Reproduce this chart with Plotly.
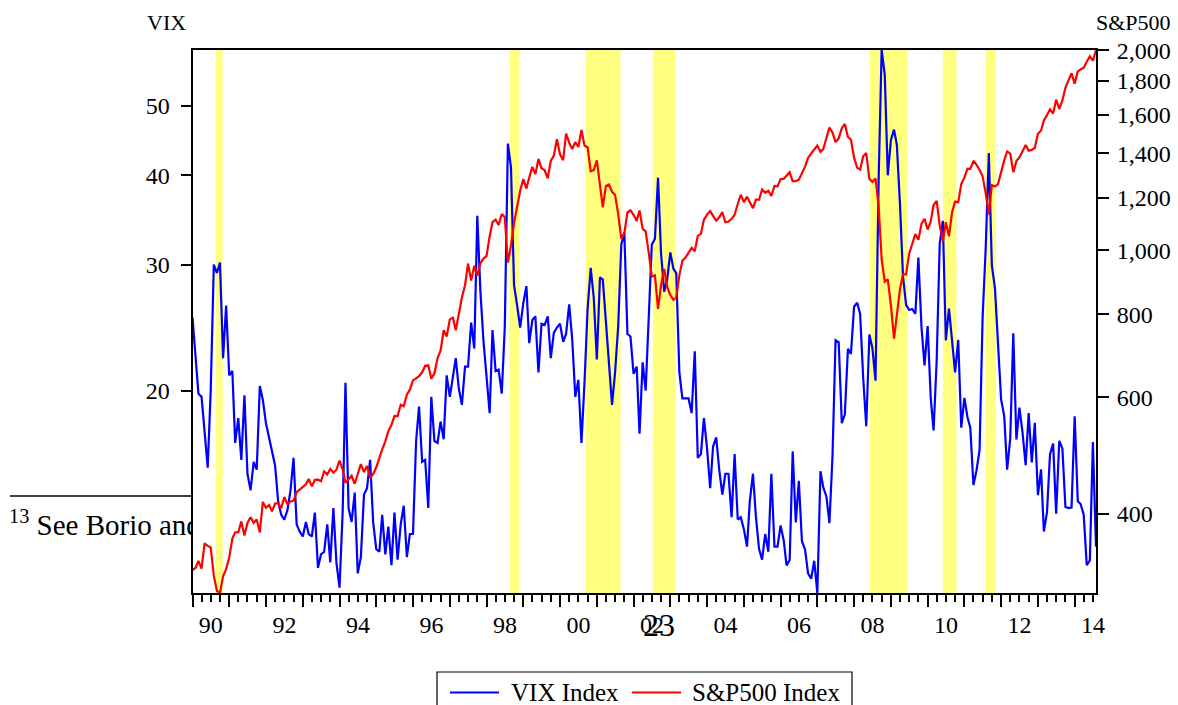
import math
import pandas as pd
import plotly.graph_objects as go

# ---------------- data (month-end values, Jan 1990 - Aug 2014) ----------------
months = pd.date_range("1990-01-01", "2014-08-01", freq="MS")

vix = [
    # 1990
    25.3, 22.2, 19.8, 19.6, 17.4, 15.6, 20.0, 30.0, 29.2, 30.2, 22.2, 26.3,
    # 1991
    21.0, 21.3, 16.9, 18.3, 16.0, 19.7, 15.3, 14.5, 15.9, 15.5, 20.3, 19.4,
    # 1992
    18.0, 17.2, 16.6, 15.7, 14.0, 13.4, 13.2, 13.6, 14.5, 16.1, 13.0, 12.7,
    # 1993
    12.5, 13.1, 12.6, 12.5, 13.5, 11.3, 11.8, 11.9, 13.0, 11.5, 13.7, 11.5,
    # 1994
    10.6, 13.5, 20.5, 13.7, 13.1, 14.4, 11.1, 11.7, 14.3, 14.6, 16.0, 13.1,
    # 1995
    12.0, 11.9, 13.4, 11.8, 12.9, 11.4, 13.5, 11.6, 13.0, 13.8, 11.7, 12.6,
    # 1996
    12.6, 17.0, 19.0, 15.9, 16.0, 13.7, 19.6, 17.0, 16.9, 18.1, 17.1, 21.0,
    # 1997
    19.6, 21.0, 22.2, 20.1, 19.1, 21.6, 21.6, 24.9, 22.9, 35.1, 27.5, 23.5,
    # 1998
    21.0, 18.6, 24.3, 21.3, 21.4, 19.8, 24.5, 44.3, 41.0, 28.1, 26.3, 24.5,
    # 1999
    26.5, 28.0, 23.3, 25.1, 25.4, 21.2, 24.8, 24.7, 25.4, 22.2, 24.1, 24.5,
    # 2000
    24.8, 23.4, 24.0, 26.4, 23.6, 19.6, 20.7, 16.9, 20.6, 26.0, 29.7, 27.0,
    # 2001
    22.1, 28.8, 28.6, 25.2, 22.2, 19.1, 21.2, 24.6, 32.0, 33.3, 24.0, 23.8,
    # 2002
    21.1, 21.6, 17.4, 21.9, 20.0, 25.4, 32.0, 32.6, 39.7, 31.1, 27.5, 28.6,
    # 2003
    31.2, 29.6, 29.2, 21.2, 19.5, 19.5, 19.5, 18.6, 22.7, 16.1, 16.3, 18.3,
    # 2004
    16.6, 14.6, 16.7, 17.2, 15.5, 14.3, 15.3, 15.3, 13.3, 16.3, 13.2, 13.3,
    # 2005
    12.8, 12.1, 14.0, 15.3, 13.3, 12.0, 11.6, 12.6, 11.9, 15.3, 12.1, 12.1,
    # 2006
    12.95, 12.34, 11.39, 11.59, 16.44, 13.08, 14.95, 12.31, 11.98, 11.10, 10.91, 11.56,
    # 2007
    10.42, 15.42, 14.64, 14.22, 13.05, 16.23, 23.52, 23.38, 18.00, 18.53, 22.87, 22.50,
    # 2008
    26.20, 26.54, 25.61, 20.79, 17.83, 23.95, 22.94, 20.65, 39.39, 59.89, 55.28, 40.00,
    # 2009
    44.84, 46.35, 44.14, 36.50, 28.92, 26.35, 25.92, 26.01, 25.61, 30.69, 24.51, 21.68,
    # 2010
    24.62, 19.50, 17.59, 22.05, 32.07, 34.54, 23.50, 26.05, 23.70, 21.20, 23.54, 17.75,
    # 2011
    19.53, 18.35, 17.74, 14.75, 15.45, 16.52, 25.25, 31.62, 42.96, 29.96, 27.80, 23.40,
    # 2012
    19.44, 18.43, 15.50, 17.15, 24.06, 17.08, 18.93, 17.47, 15.73, 18.60, 15.87, 18.02,
    # 2013
    14.28, 15.51, 12.70, 13.52, 16.30, 16.86, 13.45, 17.01, 16.60, 13.75, 13.70, 13.72,
    # 2014
    18.41, 14.00, 13.88, 13.41, 11.40, 11.57, 16.95, 12.09,
]

spx = [
    # 1990
    329.1, 331.9, 339.9, 330.8, 361.2, 358.0, 356.2, 322.6, 306.1, 304.0, 322.2, 330.2,
    # 1991
    343.9, 367.1, 375.2, 375.3, 389.8, 371.2, 387.8, 395.4, 387.9, 392.5, 375.2, 417.1,
    # 1992
    408.8, 412.7, 403.7, 414.9, 415.4, 408.1, 424.2, 414.0, 417.8, 418.7, 431.4, 435.7,
    # 1993
    438.8, 443.4, 451.7, 440.2, 450.2, 450.5, 448.1, 463.6, 458.9, 467.8, 461.8, 466.5,
    # 1994
    481.6, 467.1, 445.8, 450.9, 456.5, 444.3, 458.3, 475.5, 462.7, 472.4, 453.7, 459.3,
    # 1995
    470.4, 487.4, 500.7, 514.7, 533.4, 544.8, 562.1, 561.9, 584.4, 581.5, 605.4, 615.9,
    # 1996
    636.0, 640.4, 645.5, 654.2, 669.1, 670.6, 639.9, 652.0, 687.3, 705.3, 757.0, 740.7,
    # 1997
    786.2, 790.8, 757.1, 801.3, 848.3, 885.1, 954.3, 899.5, 947.3, 914.6, 955.4, 970.4,
    # 1998
    980.3, 1049.3, 1101.8, 1111.8, 1090.8, 1133.8, 1120.7, 957.3, 1017.0, 1098.7, 1163.6, 1229.2,
    # 1999
    1279.6, 1238.3, 1286.4, 1335.2, 1301.8, 1372.7, 1328.7, 1320.4, 1282.7, 1362.9, 1388.9, 1469.3,
    # 2000
    1394.5, 1366.4, 1498.6, 1452.4, 1420.6, 1454.6, 1430.8, 1517.7, 1436.5, 1429.4, 1315.2, 1320.3,
    # 2001
    1366.0, 1239.9, 1160.3, 1249.5, 1255.8, 1224.4, 1211.2, 1133.6, 1040.9, 1059.8, 1139.5, 1148.1,
    # 2002
    1130.2, 1106.7, 1147.4, 1076.9, 1067.1, 989.8, 911.6, 916.1, 815.3, 885.8, 936.3, 879.8,
    # 2003
    855.7, 841.2, 848.2, 916.9, 963.6, 974.5, 990.3, 1008.0, 996.0, 1050.7, 1058.2, 1111.9,
    # 2004
    1131.1, 1144.9, 1126.2, 1107.3, 1120.7, 1140.8, 1101.7, 1104.2, 1114.6, 1130.2, 1173.8, 1211.9,
    # 2005
    1181.3, 1203.6, 1180.6, 1156.9, 1191.5, 1191.3, 1234.2, 1220.3, 1228.8, 1207.0, 1249.5, 1248.3,
    # 2006
    1280.1, 1280.7, 1294.8, 1310.6, 1270.1, 1270.2, 1276.7, 1303.8, 1335.9, 1377.9, 1400.6, 1418.3,
    # 2007
    1438.2, 1406.8, 1420.9, 1482.4, 1530.6, 1503.4, 1455.3, 1474.0, 1526.8, 1549.4, 1481.1, 1468.4,
    # 2008
    1378.6, 1330.6, 1322.7, 1385.6, 1400.4, 1280.0, 1267.4, 1282.8, 1166.4, 968.8, 896.2, 903.3,
    # 2009
    825.9, 735.1, 797.9, 872.8, 919.1, 919.3, 987.5, 1020.6, 1057.1, 1036.2, 1095.6, 1115.1,
    # 2010
    1073.9, 1104.5, 1169.4, 1186.7, 1089.4, 1030.7, 1101.6, 1049.3, 1141.2, 1183.3, 1180.6, 1257.6,
    # 2011
    1286.1, 1327.2, 1325.8, 1363.6, 1345.2, 1320.6, 1292.3, 1218.9, 1131.4, 1253.3, 1247.0, 1257.6,
    # 2012
    1312.4, 1365.7, 1408.5, 1397.9, 1310.3, 1362.2, 1379.3, 1406.6, 1440.7, 1412.2, 1416.2, 1426.2,
    # 2013
    1498.1, 1514.7, 1569.2, 1597.6, 1630.7, 1606.3, 1685.7, 1633.0, 1681.6, 1756.5, 1805.8, 1848.4,
    # 2014
    1782.6, 1859.5, 1872.3, 1883.95, 1923.6, 1960.2, 1930.7, 2003.4,
]

# shaded stress episodes (start, end)
band_starts = ["1990-08-23", "1998-08-17", "2000-09-12", "2002-07-11", "2008-06-05", "2010-06-01", "2011-08-02"]
band_ends   = ["1990-10-28", "1998-11-25", "2001-08-25", "2003-02-20", "2009-06-15", "2010-10-15", "2011-11-10"]

vix_ticks = [20, 30, 40, 50]
spx_ticks = [400, 600, 800, 1000, 1200, 1400, 1600, 1800, 2000]

series_names = ["VIX Index", "S&P500 Index"]
series_colors = ["#0000FF", "#FF0000"]

# ---------------- layout helpers ----------------
W, H = 1178, 705
def fx(p):
    return p / W
def fy(p):
    return 1 - p / H

PL, PR, PT, PB = 192.5, 1096.0, 50.0, 593.0
SERIF = "Liberation Serif"

fig = go.Figure()

fig.add_trace(go.Scatter(x=months, y=vix, name=series_names[0], mode="lines",
                         line=dict(color=series_colors[0], width=2.2),
                         xaxis="x", yaxis="y", showlegend=False))
fig.add_trace(go.Scatter(x=months, y=spx, name=series_names[1], mode="lines",
                         line=dict(color=series_colors[1], width=2.2),
                         xaxis="x", yaxis="y2", showlegend=False))

# footnote text lying behind the chart (clipped at the chart's left edge)
fig.add_trace(go.Scatter(x=[9], y=[528], mode="text",
                         text=["<sup>13</sup> See Borio and Lowe"],
                         textposition="middle right",
                         textfont=dict(family=SERIF, size=29, color="black"),
                         cliponaxis=True, showlegend=False, hoverinfo="skip",
                         xaxis="x3", yaxis="y3"))

shapes = []
for s, e in zip(band_starts, band_ends):
    shapes.append(dict(type="rect", xref="x", yref="paper", x0=s, x1=e,
                       y0=fy(PB), y1=fy(PT), fillcolor="#FFFF80",
                       line=dict(width=0), layer="below"))
# footnote separator rule
shapes.append(dict(type="line", xref="paper", yref="paper",
                   x0=fx(10), x1=fx(PL), y0=fy(496), y1=fy(496),
                   line=dict(color="black", width=1.5)))

# legend box (bottom, partly cut by the page edge)
shapes.append(dict(type="rect", xref="paper", yref="paper",
                   x0=fx(437), x1=fx(852), y0=fy(716), y1=fy(672),
                   line=dict(color="black", width=1.2), fillcolor="white"))
legend_line_x = [(450, 499), (632, 681)]
legend_text_x = [509, 690]
annotations = []
for (lx0, lx1), tx, nm, col in zip(legend_line_x, legend_text_x, series_names, series_colors):
    shapes.append(dict(type="line", xref="paper", yref="paper",
                       x0=fx(lx0), x1=fx(lx1), y0=fy(692.5), y1=fy(692.5),
                       line=dict(color=col, width=2)))
    annotations.append(dict(text=nm, x=fx(tx), y=fy(692), xref="paper", yref="paper",
                            xanchor="left", yanchor="middle", showarrow=False,
                            font=dict(family=SERIF, size=25, color="black")))

annotations += [
    dict(text="VIX", x=fx(166.5), y=fy(22), xref="paper", yref="paper",
         xanchor="center", yanchor="middle",
         showarrow=False, font=dict(family=SERIF, size=22, color="black")),
    dict(text="S&P500", x=fx(1133.5), y=fy(22), xref="paper", yref="paper",
         xanchor="center", yanchor="middle",
         showarrow=False, font=dict(family=SERIF, size=22, color="black")),
    dict(text="23", x=fx(659), y=fy(625), xref="paper", yref="paper",
         xanchor="center", yanchor="middle",
         showarrow=False, font=dict(family=SERIF, size=32, color="black")),
]

fig.update_layout(
    width=W, height=H,
    template="none",
    margin=dict(l=0, r=0, t=0, b=0, autoexpand=False),
    paper_bgcolor="white", plot_bgcolor="white",
    shapes=shapes, annotations=annotations,
    showlegend=False,
    xaxis=dict(type="date", domain=[fx(PL), fx(PR)], anchor="y",
               range=[months[0], months[-1]],
               showline=True, linecolor="black", linewidth=2, mirror=True,
               showgrid=False, zeroline=False,
               ticks="outside", ticklen=12, tickwidth=1.5, tickcolor="black",
               tick0="1990-01-01", dtick="M12", tickformat="%y",
               ticklabelmode="period", ticklabelstep=2, ticklabelstandoff=-3,
               tickfont=dict(family=SERIF, size=24, color="black"),
               minor=dict(dtick="M3", tick0="1990-01-01", ticks="outside", ticklen=7,
                          tickwidth=1.5, tickcolor="black", showgrid=False)),
    yaxis=dict(type="log", domain=[fy(PB), fy(PT)], anchor="x",
               range=[math.log10(min(vix)), math.log10(max(vix))],
               showline=True, linecolor="black", linewidth=2,
               showgrid=False, zeroline=False,
               tickvals=vix_ticks, ticks="outside", ticklen=10, tickwidth=1.5,
               tickcolor="black", ticklabelstandoff=6,
               tickfont=dict(family=SERIF, size=24, color="black")),
    yaxis2=dict(type="log", overlaying="y", side="right", anchor="x",
                range=[math.log10(min(spx)), math.log10(max(spx))],
                showline=True, linecolor="black", linewidth=2,
                showgrid=False, zeroline=False,
                tickvals=spx_ticks, tickformat=",", ticks="outside", ticklen=11,
                tickwidth=1.5, tickcolor="black", ticklabelstandoff=3,
                tickfont=dict(family=SERIF, size=24, color="black")),
    xaxis3=dict(domain=[0, fx(PL)], range=[0, PL], anchor="y3", visible=False,
                fixedrange=True),
    yaxis3=dict(domain=[fy(560), fy(480)], range=[560, 480], anchor="x3", visible=False,
                fixedrange=True),
)

fig.write_html("out.html")
